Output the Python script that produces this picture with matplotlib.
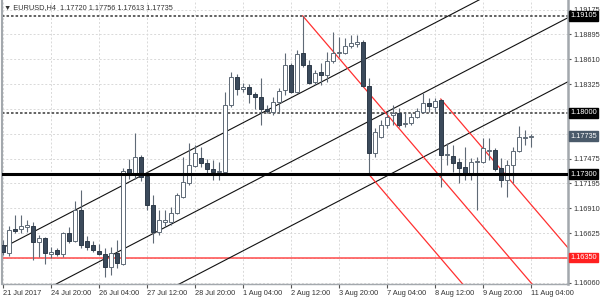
import matplotlib.pyplot as plt
import numpy as np
from matplotlib.transforms import blended_transform_factory

plt.rcParams['font.family'] = ['Liberation Sans', 'DejaVu Sans']

# EURUSD H4 candles
opens = [1.16493, 1.16402, 1.16675, 1.16675, 1.16698, 1.16710, 1.16527, 1.16573, 1.16390, 1.16436,
         1.16390, 1.16630, 1.16539, 1.16892, 1.16539, 1.16493, 1.16425, 1.16390, 1.16242, 1.16402,
         1.16276, 1.17359, 1.17314, 1.17496, 1.17280, 1.16949, 1.16641, 1.16755, 1.16755, 1.16858,
         1.17040, 1.17200, 1.17394, 1.17485, 1.17428, 1.17359, 1.17325, 1.17325, 1.18089, 1.18408,
         1.18271, 1.18294, 1.18214, 1.18180, 1.18043, 1.18009, 1.18123, 1.18260, 1.18545, 1.18237,
         1.18682, 1.18545, 1.18351, 1.18465, 1.18431, 1.18591, 1.18682, 1.18682, 1.18762, 1.18784,
         1.18807, 1.18306, 1.17542, 1.17724, 1.17861, 1.17975, 1.17998, 1.17872, 1.17884, 1.17952,
         1.18009, 1.18112, 1.18066, 1.18146, 1.17519, 1.17508, 1.17439, 1.17382, 1.17314, 1.17439,
         1.17439, 1.17565, 1.17576, 1.17371, 1.17234, 1.17405, 1.17565, 1.17713, 1.17720]
highs = [1.16550, 1.16710, 1.16835, 1.16835, 1.16778, 1.16755, 1.16607, 1.16584, 1.16470, 1.16459,
         1.16641, 1.16698, 1.16995, 1.17120, 1.16596, 1.16539, 1.16504, 1.16459, 1.16470, 1.16550,
         1.17371, 1.17473, 1.17770, 1.17519, 1.17325, 1.17063, 1.16892, 1.16892, 1.16926, 1.17086,
         1.17496, 1.17656, 1.17633, 1.17610, 1.17473, 1.17462, 1.17439, 1.18237, 1.18465, 1.18442,
         1.18340, 1.18328, 1.18237, 1.18397, 1.18089, 1.18180, 1.18283, 1.18682, 1.18568, 1.18716,
         1.19105, 1.18602, 1.18488, 1.18568, 1.18693, 1.18921, 1.18864, 1.18853, 1.18887, 1.18887,
         1.18830, 1.18397, 1.17827, 1.17918, 1.18009, 1.18089, 1.18055, 1.18009, 1.17998, 1.18055,
         1.18226, 1.18169, 1.18169, 1.18157, 1.17656, 1.17633, 1.17485, 1.17610, 1.17485, 1.17496,
         1.17713, 1.17713, 1.17599, 1.17485, 1.17462, 1.17610, 1.17850, 1.17804, 1.17756]
lows = [1.16379, 1.16368, 1.16630, 1.16630, 1.16641, 1.16322, 1.16356, 1.16276, 1.16345, 1.16368,
        1.16356, 1.16516, 1.16527, 1.16459, 1.16436, 1.16413, 1.16379, 1.16128, 1.16151, 1.16231,
        1.16265, 1.17245, 1.17245, 1.17223, 1.16892, 1.16516, 1.16607, 1.16698, 1.16721, 1.16846,
        1.17029, 1.17177, 1.17382, 1.17382, 1.17314, 1.17234, 1.17234, 1.17314, 1.18066, 1.18203,
        1.18237, 1.18112, 1.18043, 1.17861, 1.17998, 1.17975, 1.17998, 1.18203, 1.18226, 1.18226,
        1.18522, 1.18328, 1.18317, 1.18317, 1.18351, 1.18568, 1.18636, 1.18670, 1.18739, 1.18750,
        1.18294, 1.17300, 1.17496, 1.17713, 1.17827, 1.17861, 1.17838, 1.17838, 1.17861, 1.17941,
        1.17998, 1.18009, 1.18009, 1.17154, 1.17405, 1.17325, 1.17200, 1.17234, 1.17234, 1.16892,
        1.17428, 1.17462, 1.17337, 1.17154, 1.17040, 1.17200, 1.17553, 1.17633, 1.17613]
closes = [1.16413, 1.16664, 1.16653, 1.16710, 1.16721, 1.16527, 1.16573, 1.16402, 1.16413, 1.16390,
          1.16630, 1.16539, 1.16892, 1.16493, 1.16470, 1.16436, 1.16390, 1.16242, 1.16402, 1.16288,
          1.17337, 1.17291, 1.17496, 1.17268, 1.16949, 1.16641, 1.16778, 1.16778, 1.16858, 1.17063,
          1.17211, 1.17405, 1.17542, 1.17428, 1.17359, 1.17325, 1.17337, 1.18089, 1.18408, 1.18271,
          1.18294, 1.18214, 1.18180, 1.18043, 1.18021, 1.18123, 1.18249, 1.18545, 1.18237, 1.18670,
          1.18545, 1.18340, 1.18454, 1.18431, 1.18591, 1.18682, 1.18693, 1.18762, 1.18796, 1.18807,
          1.18306, 1.17542, 1.17781, 1.17861, 1.17952, 1.17998, 1.17861, 1.17884, 1.17952, 1.18021,
          1.18112, 1.18078, 1.18135, 1.17519, 1.17530, 1.17428, 1.17371, 1.17314, 1.17439, 1.17451,
          1.17599, 1.17576, 1.17359, 1.17234, 1.17405, 1.17565, 1.17724, 1.17724, 1.17735]

xtick_labels = ['21 Jul 2017', '24 Jul 20:00', '26 Jul 04:00', '27 Jul 12:00', '28 Jul 20:00',
                '1 Aug 04:00', '2 Aug 12:00', '3 Aug 20:00', '7 Aug 04:00', '8 Aug 12:00',
                '9 Aug 20:00', '11 Aug 04:00']
ytick_values = [1.16060, 1.16345, 1.16625, 1.16910, 1.17195, 1.17475, 1.17760, 1.18045,
                1.18325, 1.18610, 1.18895, 1.19175]
ytick_hidden = [1.16345, 1.17760, 1.18045]

# horizontal levels
level_res = [1.19105, 1.18000]
level_sup = 1.17300
level_low = 1.16350
last_price = 1.17735

# channel (black) and red parallel lines
chan_bar, chan_mid, chan_step, chan_slope = 58, 1.17796, 0.00730, 0.000356
red_bars = [50, 61, 73]
red_prices = [1.19105, 1.17300, 1.18157]
red_slope = -0.00080

n = len(opens)
idx = np.arange(n)
o = np.array(opens); h = np.array(highs); l = np.array(lows); c = np.array(closes)
up = c >= o

fig = plt.figure(figsize=(6, 3), dpi=100)
ax = fig.add_axes([2/600, 16/300, 566/600, 284/300])
ax.set_xlim(-0.12, 94.2)
ax.set_ylim(1.160486, 1.192862)

# grid
for xv in range(0, n, 8):
    ax.axvline(xv, color='#d9d9d9', lw=0.7, ls=(0, (2, 2)), zorder=0)
for yv in ytick_values:
    ax.axhline(yv, color='#d9d9d9', lw=0.7, ls=(0, (2, 2)), zorder=0)

# levels
for lv in level_res:
    ax.axhline(lv, color='#555555', lw=1.3, ls=(0, (1.4, 1.1)), zorder=1)
ax.axhline(level_sup, color='black', lw=2.2, zorder=4)
ax.axhline(level_low, color='#ff4a4a', lw=1.1, zorder=1)

# channel lines
xs = np.array([-2, 96])
for k in (1, 0, -1):
    ax.plot(xs, chan_mid + k*chan_step + chan_slope*(xs - chan_bar), color='#111111', lw=0.8, zorder=1)

# red lines
for b, p in zip(red_bars, red_prices):
    xr = np.array([b, 96])
    ax.plot(xr, p + red_slope*(xr - b), color='#ff3030', lw=0.9, zorder=1)

# candles
wick_col = '#5f6a76'
ax.vlines(idx, l, h, color=wick_col, lw=0.8, zorder=2)
body_lo = np.minimum(o, c)
body_h = np.maximum(np.abs(c - o), 0.00002)
ax.bar(idx[up], body_h[up], bottom=body_lo[up], width=0.64, color='white',
       edgecolor='#5f6a76', lw=0.7, zorder=3)
ax.bar(idx[~up], body_h[~up], bottom=body_lo[~up], width=0.64, color='#3b4a5b',
       edgecolor='#2e3a48', lw=0.7, zorder=3)

# axes styling
ax.spines['top'].set_visible(False)
for s in ['left', 'bottom', 'right']:
    ax.spines[s].set_color('#a3a8ad')
ax.spines['left'].set_linewidth(1.5)
ax.spines['right'].set_linewidth(1.8)
ax.spines['bottom'].set_linewidth(1.0)

ax.set_xticks(range(0, n, 8), xtick_labels)
for lb in ax.get_xticklabels():
    lb.set_ha('left')
ax.tick_params(axis='x', length=3, width=0.8, color='#555555', pad=1.5,
               labelsize=5.3, labelcolor='#333333')

ax.yaxis.tick_right()
ax.set_yticks(ytick_values, ['' if v in ytick_hidden else f'{v:.5f}' for v in ytick_values])
ax.tick_params(axis='y', length=2.5, width=0.8, color='#555555', pad=1.5,
               labelsize=5.3, labelcolor='#333333')

# price boxes on the right axis
tr = blended_transform_factory(ax.transAxes, ax.transData)
boxes = [(level_res[0], 'black'), (level_res[1], 'black'), (level_sup, 'black'),
         (level_low, '#ff2020'), (last_price, '#4a5a6a')]
for val, col in boxes:
    ax.text(1.004, val, f'{val:.5f}', transform=tr, ha='left', va='center', fontsize=5.3,
            color='white', clip_on=False, zorder=10,
            bbox=dict(boxstyle='square,pad=0.18', fc=col, ec=col))

ax.text(0.004, 0.985, '\u25bc EURUSD,H4  1.17720 1.17756 1.17613 1.17735', transform=ax.transAxes,
        ha='left', va='top', fontsize=5.3, color='#333333', zorder=10)

fig.savefig('out.png', dpi=100)
